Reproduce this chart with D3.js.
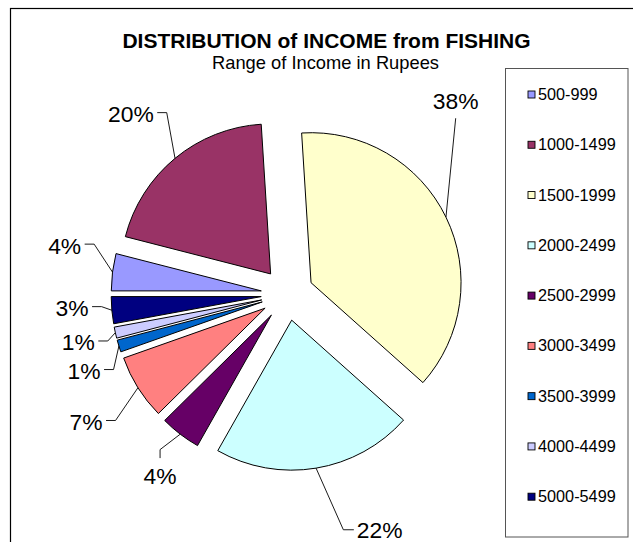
<!DOCTYPE html>
<html><head><meta charset="utf-8">
<script src="https://cdn.jsdelivr.net/npm/d3@7"></script>
<style>html,body{margin:0;padding:0;background:#fff;overflow:hidden}</style>
</head><body>
<svg id="chart" width="633" height="542"></svg>
<script>
// ---------- data ----------
const categories = ["500-999","1000-1499","1500-1999","2000-2499","2500-2999","3000-3499","3500-3999","4000-4499","5000-5499"];
const shares = [4.0, 20.0, 37.6, 21.6, 4.4, 7.0, 1.3, 1.2, 2.9];
const colors = ["#9999FF","#993366","#FFFFCC","#CCFFFF","#660066","#FF8080","#0066CC","#CCCCFF","#000080"];
const titleText = "DISTRIBUTION of INCOME from FISHING";
const subtitleText = "Range of Income in Rupees";

// ---------- layout ----------
const W = 633, H = 542;
const cx = 287.4, cy = 294.2, R = 150, explode = 26.3;
const startDeg = 270;
const SX = 1.03; // slight horizontal text stretch of the original rendering
const FONT = "'Liberation Sans', Arial, sans-serif";
// label placement: polar (deg clockwise from 12, radius) from pie centre; side = where leader attaches
const labelPlacement = [
  {a: 282.3, r: 228,   side: "right"},
  {a: 319.0, r: 238.6, side: "right"},
  {a: 41.1,  r: 256,   side: "bottom"},
  {a: 158.6, r: 253,   side: "left"},
  {a: 215.0, r: 222,   side: "top"},
  {a: 237.6, r: 238.5, side: "right"},
  {a: 249.3, r: 217.4, side: "right"},
  {a: 257.0, r: 214.6, side: "right"},
  {a: 266.3, r: 215.8, side: "right"}
];

const svg = d3.select("#chart");
svg.append("rect").attr("width", W).attr("height", H).attr("fill", "#fff");

// outer chart border (extends beyond the window on right and bottom)
svg.append("rect").attr("x", 10.5).attr("y", 8.5).attr("width", 700).attr("height", 600)
  .attr("fill", "none").attr("stroke", "#000").attr("stroke-width", 1.2);

function stretchedText(g, x, y, txt, size, weight, anchor) {
  return g.append("text")
    .attr("transform", `translate(${x},${y}) scale(${SX},1)`)
    .attr("text-anchor", anchor || "middle")
    .attr("font-family", FONT).attr("font-size", size).attr("font-weight", weight || "normal")
    .attr("fill", "#000").text(txt);
}
stretchedText(svg, 326.5, 47.5, titleText, 20.4, "bold");
stretchedText(svg, 325.5, 69, subtitleText, 17.8, "normal");

// pie
const color = d3.scaleOrdinal().domain(categories).range(colors);
const toRad = d => d * Math.PI / 180;
const pie = d3.pie().sort(null).value(d => d.v)
  .startAngle(toRad(startDeg)).endAngle(toRad(startDeg) + 2 * Math.PI);
const data = categories.map((c, i) => ({c, v: shares[i], i}));
const arcs = pie(data);
const arc = d3.arc().innerRadius(0).outerRadius(R);

const gPie = svg.append("g").attr("transform", `translate(${cx},${cy})`);
gPie.selectAll("path").data(arcs).join("path")
  .attr("transform", d => {
    const m = (d.startAngle + d.endAngle) / 2;
    return `translate(${Math.sin(m) * explode},${-Math.cos(m) * explode})`;
  })
  .attr("d", arc)
  .attr("fill", d => color(d.data.c))
  .attr("stroke", "#000").attr("stroke-width", 1).attr("stroke-linejoin", "miter");

// labels + leader lines
const gLab = svg.append("g");
const LFS = 22.2, capH = LFS * 0.716;
arcs.forEach((d, i) => {
  const p = labelPlacement[i];
  const la = toRad(p.a);
  const lx = cx + Math.sin(la) * p.r, ly = cy - Math.cos(la) * p.r;
  const t = stretchedText(gLab, lx, ly + capH / 2, Math.round(d.data.v) + "%", LFS, "normal");
  const w = t.node().getComputedTextLength() * SX;
  const m = (d.startAngle + d.endAngle) / 2;
  const p0 = [cx + Math.sin(m) * (R + explode), cy - Math.cos(m) * (R + explode)];
  let pts;
  if (p.side === "right") {
    const A = [lx + w / 2 + 3.5, ly - 1.5];
    pts = [p0, [A[0] + 9.5, A[1]], A];
  } else if (p.side === "left") {
    const A = [lx - w / 2 - 3, ly];
    pts = [p0, [A[0] - 10.5, A[1]], A];
  } else if (p.side === "top") {
    const A = [lx, ly - capH / 2 - 10];
    pts = [p0, [A[0], A[1] - 8.5], A];
  } else {
    const A = [lx, ly + capH / 2 + 9];
    pts = [p0, A];
  }
  gLab.append("path").attr("d", d3.line()(pts))
    .attr("fill", "none").attr("stroke", "#000").attr("stroke-width", 0.9);
});

// legend
const legX = 505.5, legY = 68.5, legW = 122.5, legH = 468.5;
svg.append("rect").attr("x", legX).attr("y", legY).attr("width", legW).attr("height", legH)
  .attr("fill", "#fff").attr("stroke", "#555").attr("stroke-width", 1);
const ly = d3.scalePoint().domain(categories).range([94.5, 496.7]);
const gLeg = svg.append("g");
categories.forEach(c => {
  gLeg.append("rect").attr("x", 528).attr("y", ly(c) - 3.5).attr("width", 7).attr("height", 7)
    .attr("fill", color(c)).attr("stroke", "#000").attr("stroke-width", 0.9);
  stretchedText(gLeg, 538, ly(c) + 5.6, c, 15.8, "normal", "start");
});
</script>
</body></html>
